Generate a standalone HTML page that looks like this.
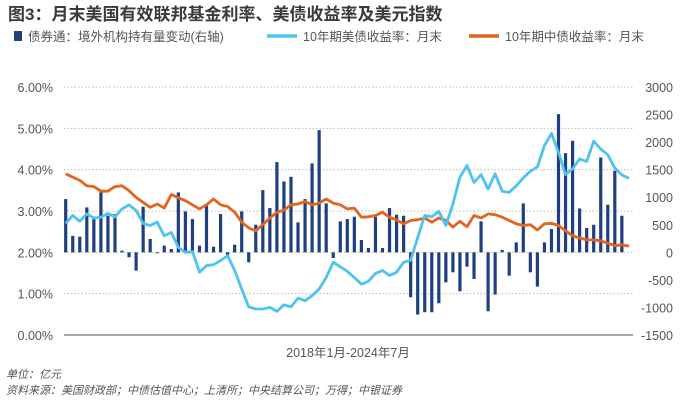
<!DOCTYPE html>
<html><head><meta charset="utf-8">
<style>
body{margin:0;background:#fff;width:700px;height:409px;overflow:hidden;font-family:"Liberation Sans","Noto Sans CJK SC",sans-serif;}
svg text{font-family:"Liberation Sans","Noto Sans CJK SC",sans-serif;}
</style></head>
<body>
<svg id="chart" width="700" height="409">
<text x="8" y="20" font-size="17" font-weight="bold" fill="#3a3a3a">图3：月末美国有效联邦基金利率、美债收益率及美元指数</text>
<g>
<rect x="14" y="31" width="8" height="10" fill="#1f3f7f"/>
<text x="28" y="41" font-size="12.5" fill="#555">债券通：境外机构持有量变动(右轴)</text>
<line x1="267" y1="36" x2="297" y2="36" stroke="#4ec3ef" stroke-width="3.5"/>
<text x="303" y="41" font-size="12.5" fill="#555">10年期美债收益率：月末</text>
<line x1="469" y1="36" x2="499" y2="36" stroke="#e4631f" stroke-width="3.5"/>
<text x="505" y="41" font-size="12.5" fill="#555">10年期中债收益率：月末</text>
</g>
<g id="grid"></g><g id="bars"></g><g id="lines"></g><g id="axes"></g>
<text x="348" y="357" font-size="12.5" fill="#555" text-anchor="middle">2018年1月-2024年7月</text>
<text x="6" y="378" font-size="11" fill="#555" font-style="italic">单位：亿元</text>
<text x="6" y="394" font-size="11" fill="#555" font-style="italic">资料来源：美国财政部；中债估值中心；上清所；中央结算公司；万得；中银证券</text>
</svg>
<script>
const bondConnect=[966,299,284,815,604,1087,664,695,30,-90,-332,827,242,-18,121,60,1087,743,604,121,876,103,695,-60,139,743,-181,501,1129,803,1637,1286,1371,544,966,1613,2217,888,-103,562,604,646,223,78,646,78,803,682,664,-815,-1129,-1087,-1087,-924,-544,-362,-707,-260,-483,562,-1069,-767,42,-423,181,888,-362,-622,181,423,2507,1800,2023,797,441,501,1721,864,1480,664];
const us10y=[2.70,2.89,2.75,2.93,2.83,2.85,2.94,2.86,3.05,3.15,3.01,2.70,2.65,2.73,2.40,2.48,2.12,2.00,2.02,1.52,1.68,1.70,1.80,1.92,1.56,1.11,0.68,0.63,0.63,0.67,0.57,0.73,0.68,0.89,0.83,0.95,1.11,1.39,1.76,1.65,1.54,1.39,1.23,1.30,1.49,1.56,1.44,1.52,1.76,1.81,2.36,2.89,2.86,2.99,2.65,3.17,3.82,4.10,3.69,3.88,3.53,3.90,3.48,3.45,3.61,3.80,3.96,4.07,4.58,4.88,4.42,3.88,4.02,4.26,4.20,4.69,4.50,4.36,4.04,3.87,3.79];
const cn10y=[3.90,3.82,3.74,3.61,3.59,3.48,3.48,3.59,3.61,3.49,3.33,3.21,3.09,3.17,3.07,3.40,3.32,3.25,3.15,3.05,3.15,3.29,3.15,3.11,2.97,2.73,2.59,2.52,2.67,2.83,2.97,3.02,3.15,3.17,3.23,3.15,3.19,3.29,3.19,3.15,3.05,3.07,2.85,2.86,2.89,2.97,2.85,2.78,2.69,2.77,2.79,2.83,2.73,2.83,2.77,2.61,2.75,2.62,2.89,2.83,2.93,2.91,2.85,2.77,2.69,2.65,2.67,2.54,2.69,2.70,2.65,2.52,2.40,2.35,2.30,2.30,2.28,2.22,2.16,2.18,2.15];
const leftTicks=["0.00%","1.00%","2.00%","3.00%","4.00%","5.00%","6.00%"];
const rightTicks=["-1500","-1000","-500","0","500","1000","1500","2000","2500","3000"];
const NS="http://www.w3.org/2000/svg";
const x0=64,x1=633,yTop=87,yBot=335;
const yL=v=>yBot-(v/6)*(yBot-yTop);
const yR=v=>yBot-((v+1500)/4500)*(yBot-yTop);
const step=7.04, xFirst=65.7;
const xAt=i=>xFirst+i*step;
function mk(tag,attrs,parent){const e=document.createElementNS(NS,tag);for(const k in attrs)e.setAttribute(k,attrs[k]);parent.appendChild(e);return e;}
const grid=document.getElementById('grid'),axes=document.getElementById('axes');
leftTicks.forEach((t,i)=>{
  const y=yL(i);
  if(i>0){const g=mk('line',{x1:x0,x2:x1,y1:y,y2:y,stroke:'#bbb','stroke-width':1,'stroke-dasharray':'1.5,2'},grid);
  
  }
  const tx=mk('text',{x:53,y:y+5,'font-size':12.5,fill:'#555','text-anchor':'end'},axes);tx.textContent=t;
  
  
});
rightTicks.forEach((t,i)=>{
  const y=yR(+t);
  const tx=mk('text',{x:673,y:y+5,'font-size':12.5,fill:'#555','text-anchor':'end'},axes);tx.textContent=t;
  
  
});
const base=mk('line',{x1:x0,x2:x1,y1:yBot,y2:yBot,stroke:'#888','stroke-width':1.5},axes);


const bars=document.getElementById('bars');
bondConnect.forEach((v,i)=>{
  const y0=yR(0),y=yR(v);
  const r=mk('rect',{x:xAt(i)-1.6,width:3.2,y:Math.min(y,y0),height:Math.abs(y-y0),fill:'#1f3f7f'},bars);
  
  
});
const lines=document.getElementById('lines');
function drawLine(arr,color,name){
  const d=arr.map((v,i)=>(i?'L':'M')+xAt(i).toFixed(1)+','+yL(v).toFixed(1)).join('');
  const p=mk('path',{d:d,fill:'none',stroke:color,'stroke-width':2.8,'stroke-linejoin':'round'},lines);
  
  
}
drawLine(cn10y,'#e4631f','line-cn-10y');
drawLine(us10y,'#4ec3ef','line-us-10y');
</script>
</body></html>
